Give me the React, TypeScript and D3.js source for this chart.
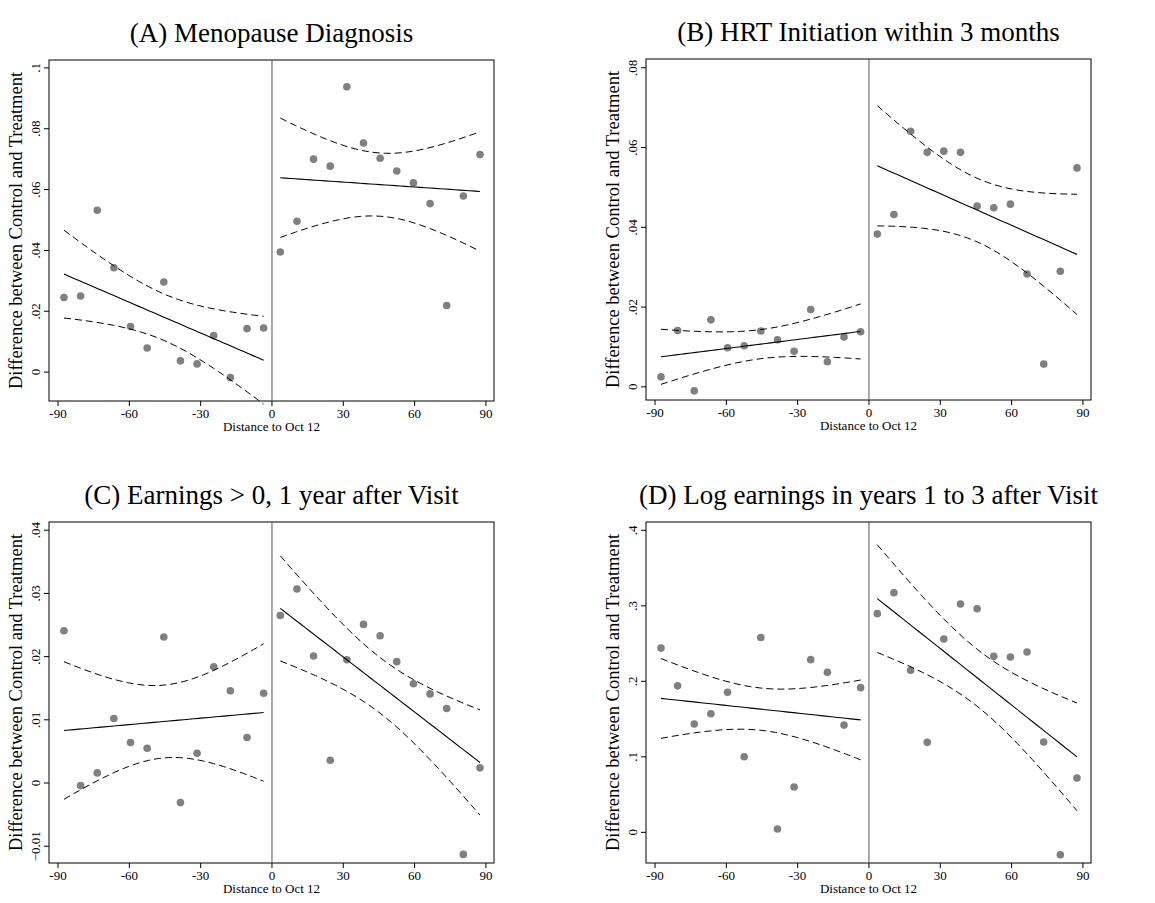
import * as d3 from 'd3';
import React from 'react';

// bin midpoints (days from Oct 12)
const xLeft = [-87.5, -80.5, -73.5, -66.5, -59.5, -52.5, -45.5, -38.5, -31.5, -24.5, -17.5, -10.5, -3.5];
const xRight = [3.5, 10.5, 17.5, 24.5, 31.5, 38.5, 45.5, 52.5, 59.5, 66.5, 73.5, 80.5, 87.5];
const xTicks = [-90, -60, -30, 0, 30, 60, 90];

const titles = [
  '(A) Menopause Diagnosis',
  '(B) HRT Initiation within 3 months',
  '(C) Earnings > 0, 1 year after Visit',
  '(D) Log earnings in years 1 to 3 after Visit',
];

const aLeft = [0.0245, 0.025, 0.0532, 0.0343, 0.015, 0.0079, 0.0296, 0.0037, 0.0027, 0.012, -0.0018, 0.0143, 0.0145];
const aRight = [0.0395, 0.0496, 0.07, 0.0677, 0.0938, 0.0753, 0.0703, 0.0661, 0.0622, 0.0554, 0.0219, 0.0579, 0.0715];
const bLeft = [0.0025, 0.0141, -0.001, 0.0168, 0.0098, 0.0103, 0.014, 0.0118, 0.0089, 0.0194, 0.0063, 0.0125, 0.0138];
const bRight = [0.0383, 0.0432, 0.0641, 0.0588, 0.0591, 0.0588, 0.0453, 0.0449, 0.0458, 0.0283, 0.0057, 0.029, 0.0549];
const cLeft = [0.0241, -0.0004, 0.0016, 0.0102, 0.0064, 0.0055, 0.0231, -0.0031, 0.0047, 0.0184, 0.0146, 0.0072, 0.0142];
const cRight = [0.0265, 0.0307, 0.0201, 0.0036, 0.0195, 0.0251, 0.0233, 0.0192, 0.0157, 0.0141, 0.0118, -0.0113, 0.0024];
const dLeft = [0.244, 0.194, 0.1435, 0.157, 0.1854, 0.1002, 0.258, 0.0044, 0.06, 0.2287, 0.212, 0.142, 0.1916];
const dRight = [0.2896, 0.3174, 0.2146, 0.1192, 0.256, 0.3024, 0.2962, 0.2331, 0.2322, 0.2389, 0.1196, -0.0296, 0.072];

// CI width relative to a plain OLS band [left, right]
const ciScale = [[1.0, 0.92], [1.1, 0.86], [1.05, 0.82], [0.6, 0.75]];

const yTicksA = [0, 0.02, 0.04, 0.06, 0.08, 0.1];
const yTicksB = [0, 0.02, 0.04, 0.06, 0.08];
const yTicksC = [-0.01, 0, 0.01, 0.02, 0.03, 0.04];
const yTicksD = [0, 0.1, 0.2, 0.3, 0.4];

const panels = [
  { left: aLeft, right: aRight, ticks: yTicksA, domain: [-0.0095, 0.1026], fx: 49, fy: 60 },
  { left: bLeft, right: bRight, ticks: yTicksB, domain: [-0.0033, 0.0822], fx: 646, fy: 59 },
  { left: cLeft, right: cRight, ticks: yTicksC, domain: [-0.01266, 0.0413], fx: 49, fy: 522 },
  { left: dLeft, right: dRight, ticks: yTicksD, domain: [-0.0406, 0.411], fx: 646, fy: 522 },
];

const FW = 445;
const FH = 341;
const font = '"Liberation Serif", "DejaVu Serif", serif';
const fmt = (v: number) => (v === 0 ? '0' : d3.format('.2~f')(v).replace(/^(-?)0\./, '$1.'));

// OLS fit with 95% CI of the mean prediction
function fitCI(xs: number[], ys: number[], scale: number) {
  const n = xs.length;
  const xm = d3.mean(xs)!;
  const ym = d3.mean(ys)!;
  const sxx = d3.sum(xs, (x) => (x - xm) ** 2);
  const b = d3.sum(xs, (x, i) => (x - xm) * (ys[i] - ym)) / sxx;
  const a = ym - b * xm;
  const s2 = d3.sum(xs, (x, i) => (ys[i] - a - b * x) ** 2) / (n - 2);
  const t = 2.201 * scale;
  const grid = d3.range(0, 41).map((i) => xs[0] + ((xs[n - 1] - xs[0]) * i) / 40);
  return grid.map((x) => {
    const yh = a + b * x;
    const se = Math.sqrt(s2 * (1 / n + (x - xm) ** 2 / sxx));
    return { x, y: yh, lo: yh - t * se, hi: yh + t * se };
  });
}

function Panel({ p, title, idx }: { p: (typeof panels)[number]; title: string; idx: number }) {
  const x = d3.scaleLinear().domain([-93.8, 93.4]).range([p.fx, p.fx + FW]);
  const y = d3.scaleLinear().domain(p.domain).range([p.fy + FH, p.fy]);
  const bottom = p.fy + FH;
  const sides = [
    { xs: xLeft, ys: p.left },
    { xs: xRight, ys: p.right },
  ];
  return (
    <g>
      <text x={p.fx + FW / 2} y={p.fy - 18} textAnchor="middle" fontSize={27} fontFamily={font}>
        {title}
      </text>
      <rect x={p.fx} y={p.fy} width={FW} height={FH} fill="none" stroke="#000" strokeWidth={1} />
      <line x1={x(0)} x2={x(0)} y1={p.fy} y2={bottom} stroke="#555" strokeWidth={1} />
      {sides.map((s, k) => {
        const fit = fitCI(s.xs, s.ys, ciScale[idx][k]);
        const mk = (acc: (d: { x: number; y: number; lo: number; hi: number }) => number) =>
          d3.line<(typeof fit)[number]>().x((d) => x(d.x)).y((d) => y(acc(d)))(fit)!;
        return (
          <g key={k}>
            {s.xs.map((xv, i) => (
              <circle key={i} cx={x(xv)} cy={y(s.ys[i])} r={3.8} fill="#808080" />
            ))}
            <path d={mk((d) => d.y)} fill="none" stroke="#000" strokeWidth={1.1} />
            <path d={mk((d) => d.lo)} fill="none" stroke="#000" strokeWidth={1} strokeDasharray="7,4" />
            <path d={mk((d) => d.hi)} fill="none" stroke="#000" strokeWidth={1} strokeDasharray="7,4" />
          </g>
        );
      })}
      {xTicks.map((t) => (
        <g key={t}>
          <line x1={x(t)} x2={x(t)} y1={bottom} y2={bottom + 5} stroke="#000" />
          <text x={x(t)} y={bottom + 17} textAnchor="middle" fontSize={13} fontFamily={font}>
            {t}
          </text>
        </g>
      ))}
      <text x={p.fx + FW / 2} y={bottom + 30} textAnchor="middle" fontSize={13} fontFamily={font}>
        Distance to Oct 12
      </text>
      {p.ticks.map((t) => (
        <g key={t}>
          <line x1={p.fx - 5} x2={p.fx} y1={y(t)} y2={y(t)} stroke="#000" />
          <text
            transform={`translate(${p.fx - 9},${y(t)}) rotate(-90)`}
            textAnchor="middle"
            fontSize={13}
            fontFamily={font}
          >
            {fmt(t)}
          </text>
        </g>
      ))}
      <text
        transform={`translate(${p.fx - 27},${p.fy + FH / 2}) rotate(-90)`}
        textAnchor="middle"
        fontSize={18.5}
        fontFamily={font}
      >
        Difference between Control and Treatment
      </text>
    </g>
  );
}

export default function App() {
  return (
    <svg
      width={1155}
      height={903}
      style={{ position: 'absolute', left: 0, top: 0, display: 'block', background: '#fff' }}
    >
      {panels.map((p, i) => (
        <Panel key={i} p={p} title={titles[i]} idx={i} />
      ))}
    </svg>
  );
}
